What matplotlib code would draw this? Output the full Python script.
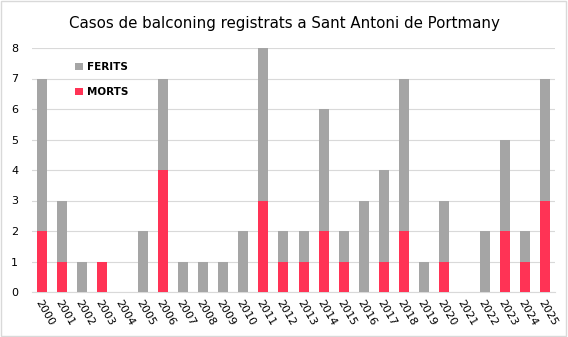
import numpy as np
import matplotlib.pyplot as plt
from matplotlib.patches import Rectangle

years = [str(y) for y in range(2000, 2026)]
morts = [2, 1, 0, 1, 0, 0, 4, 0, 0, 0, 0, 3, 1, 1, 2, 1, 0, 1, 2, 0, 1, 0, 0, 2, 1, 3]
ferits = [5, 2, 1, 0, 0, 2, 3, 1, 1, 1, 2, 5, 1, 1, 4, 1, 3, 3, 5, 1, 2, 0, 2, 3, 1, 4]

red = '#FF3355'
grey = '#A5A5A5'

fig = plt.figure(figsize=(5.68, 3.37), dpi=100)
ax = fig.add_axes([32/568, 1 - 292/337, (555 - 32)/568, (292 - 48)/337])

x = np.arange(len(years))
ax.bar(x, morts, width=0.5, color=red, label='MORTS', zorder=3)
ax.bar(x, ferits, width=0.5, bottom=morts, color=grey, label='FERITS', zorder=3)

ax.set_xlim(-0.5, len(years) - 0.5)
ax.set_ylim(0, 8)
ax.set_yticks(range(0, 9))
ax.set_xticks(x)
ax.set_xticklabels(years, rotation=-60, ha='left', rotation_mode='anchor', fontsize=8)
ax.tick_params(axis='y', labelsize=8, length=0, pad=10)
ax.tick_params(axis='x', length=0, pad=4)
ax.grid(axis='y', color='#D9D9D9', linewidth=0.8, zorder=0)
for s in ['top', 'right', 'left']:
    ax.spines[s].set_visible(False)
ax.spines['bottom'].set_color('#D9D9D9')

h, l = ax.get_legend_handles_labels()
ax.legend(h[::-1], l[::-1], loc='upper left', bbox_to_anchor=(0.065, 0.98), frameon=False,
          prop={'weight': 'bold', 'size': 7.5}, handlelength=0.7, handleheight=0.7,
          handletextpad=0.4, labelspacing=1.4)

fig.text(0.5, 0.93, 'Casos de balconing registrats a Sant Antoni de Portmany',
         ha='center', va='center', fontsize=10.8)

fig.patches.append(Rectangle((0.002, 0.003), 0.995, 0.994, transform=fig.transFigure,
                             fill=False, edgecolor='#D9D9D9', linewidth=1))

fig.savefig('out.png', dpi=100)
